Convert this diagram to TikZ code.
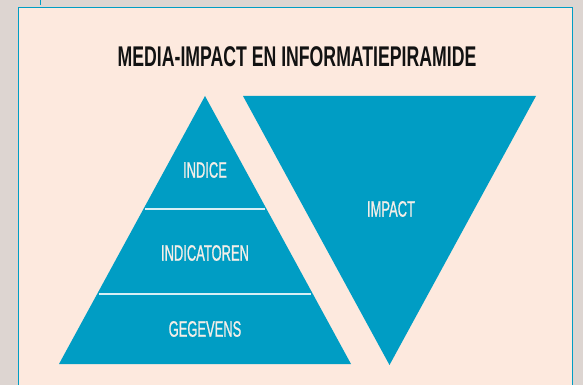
\documentclass[tikz,border=0pt]{standalone}
\usepackage{fontspec}
\usepackage{tikz}
\usetikzlibrary{calc}
\newfontfamily\titlefont[FakeStretch=0.62]{Liberation Sans}
\newfontfamily\labelfont[FakeStretch=0.58,FakeBold=0.8]{Liberation Sans}
\definecolor{pyrblue}{HTML}{009DC4}
\definecolor{peach}{HTML}{FDE9DE}
\definecolor{greybg}{HTML}{DDD5D1}
\definecolor{cream}{HTML}{F4EEE8}
\definecolor{sepline}{HTML}{D6EFF5}
\tikzset{lvl/.style={text=cream,font=\labelfont\fontsize{22.3}{24}\selectfont,inner sep=0pt}}
\tikzset{sep/.style={draw=sepline,line width=1.5pt}}

\begin{document}
\begin{tikzpicture}[x=1pt, y=-1pt]
\useasboundingbox (0,0) rectangle (583,385);

\fill [greybg] (0,0) rectangle (583,385);
\fill [peach] (18.5,7.5) rectangle (572.5,390);
\draw [pyrblue, line width=1.5pt] (18.5,390) -- (18.5,7.5) -- (572.5,7.5) -- (572.5,390);
\draw [pyrblue, line width=1pt] (40.5,0) -- (40.5,5);

\node [inner sep=0pt, text=black!93, font=\titlefont\bfseries\fontsize{28.5}{30}\selectfont] (title) at (297, 57) {MEDIA-IMPACT EN INFORMATIEPIRAMIDE};

% pyramid
\coordinate (top) at (205,96);
\coordinate (bl) at (59,364);
\coordinate (br) at (351,364);
\fill [pyrblue] (bl) -- (top) -- (br) -- cycle;

\foreach \y in {209,294} {
  \pgfmathsetmacro{\hw}{(\y-96)/268*146-2}
  \draw [sep] (205-\hw,\y) -- (205+\hw,\y);
}

% impact
\coordinate (itl) at (243,96);
\coordinate (itr) at (536,96);
\coordinate (ibot) at (389.5,365);
\fill [pyrblue] (itl) -- (itr) -- (ibot) -- cycle;

\node [lvl] (indice) at (205,170) {INDICE};
\node [lvl] (indicatoren) at (205,253) {INDICATOREN};
\node [lvl] (gegevens) at (205,329) {GEGEVENS};
\node [lvl] (impact) at (391,209) {IMPACT};

\end{tikzpicture}
\end{document}
